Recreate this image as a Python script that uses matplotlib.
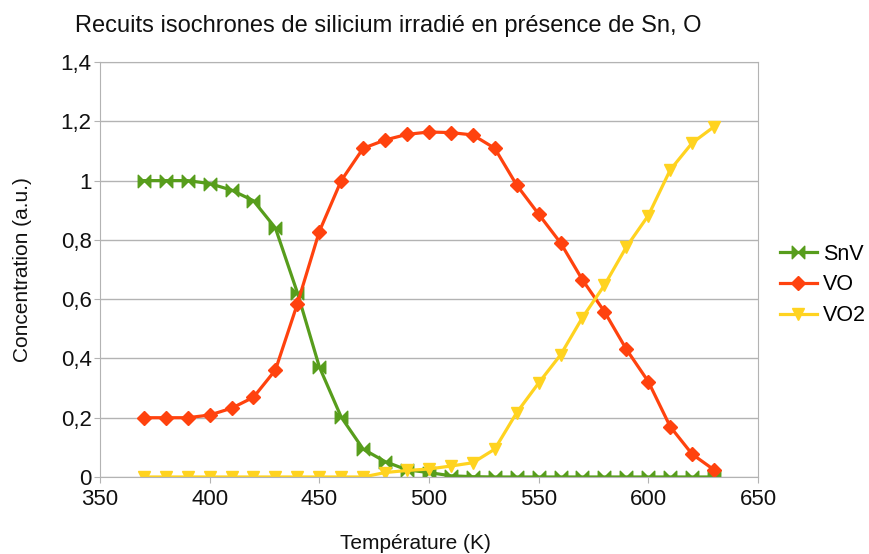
import numpy as np
import matplotlib
matplotlib.use("Agg")
import matplotlib.pyplot as plt
from matplotlib.path import Path

plt.rcParams['font.family'] = ['Liberation Sans', 'DejaVu Sans']

temperature = list(range(370, 640, 10))
snv = [1.0, 1.0, 1.0, 0.99, 0.968, 0.932, 0.84, 0.622, 0.372, 0.202, 0.094, 0.052,
       0.024, 0.015, 0.004, 0.001, 0, 0, 0, 0, 0, 0, 0, 0, 0, 0, 0]
vo = [0.2, 0.2, 0.2, 0.209, 0.232, 0.269, 0.361, 0.584, 0.828, 1.0, 1.109, 1.137,
      1.156, 1.164, 1.162, 1.154, 1.109, 0.985, 0.887, 0.79, 0.665, 0.558, 0.431,
      0.322, 0.17, 0.077, 0.024]
vo2 = [0, 0, 0, 0, 0, 0, 0, 0, 0, 0, 0, 0.015, 0.022, 0.027, 0.037, 0.048, 0.094,
       0.217, 0.317, 0.412, 0.538, 0.647, 0.776, 0.882, 1.036, 1.127, 1.182]
ytick_labels = ['0', '0,2', '0,4', '0,6', '0,8', '1', '1,2', '1,4']

# bowtie marker like LibreOffice
bowtie = Path([(-1, -1), (-1, 1), (0, 0), (1, 1), (1, -1), (0, 0), (-1, -1)],
              [Path.MOVETO, Path.LINETO, Path.LINETO, Path.LINETO, Path.LINETO,
               Path.LINETO, Path.CLOSEPOLY])

fig = plt.figure(figsize=(8.7, 5.54), dpi=100)
ax = fig.add_axes([0.1149, 0.139, 0.7563, 0.749])

ax.plot(temperature, snv, color='#579D1C', lw=2.3, marker=bowtie, ms=9, label='SnV')
ax.plot(temperature, vo, color='#FF420E', lw=2.3, marker='D', ms=7, label='VO')
ax.plot(temperature, vo2, color='#FFD320', lw=2.3, marker='v', ms=9, label='VO2')

ax.set_xlim(350, 650)
ax.set_ylim(0, 1.4)
ax.set_xticks(range(350, 651, 50))
ax.set_yticks(np.arange(0, 1.41, 0.2))
ax.set_yticklabels(ytick_labels)
ax.tick_params(labelsize=16, color='#b3b3b3', length=4.5, labelcolor='#111111')
ax.tick_params(axis='x', pad=4)
ax.tick_params(axis='y', pad=1.5)
ax.yaxis.grid(True, color='#b3b3b3', lw=1)
ax.set_axisbelow(True)
for s in ax.spines.values():
    s.set_color('#b3b3b3')

ax.set_ylabel('Concentration (a.u.)', fontsize=15, color='#111111')
ax.yaxis.set_label_coords(-0.103, 0.5)
ax.set_xlabel('Température (K)', fontsize=15, color='#111111')
ax.xaxis.set_label_coords(0.479, -0.138)
fig.text(0.086, 0.942, 'Recuits isochrones de silicium irradié en présence de Sn, O',
         fontsize=17, color='#111111')

ax.legend(loc='center left', bbox_to_anchor=(1.033, 0.463), frameon=False,
          fontsize=15.5, handlelength=1.75, handletextpad=0.25, labelspacing=0.45,
          borderpad=0, borderaxespad=0)

fig.savefig('out.png', dpi=100)
